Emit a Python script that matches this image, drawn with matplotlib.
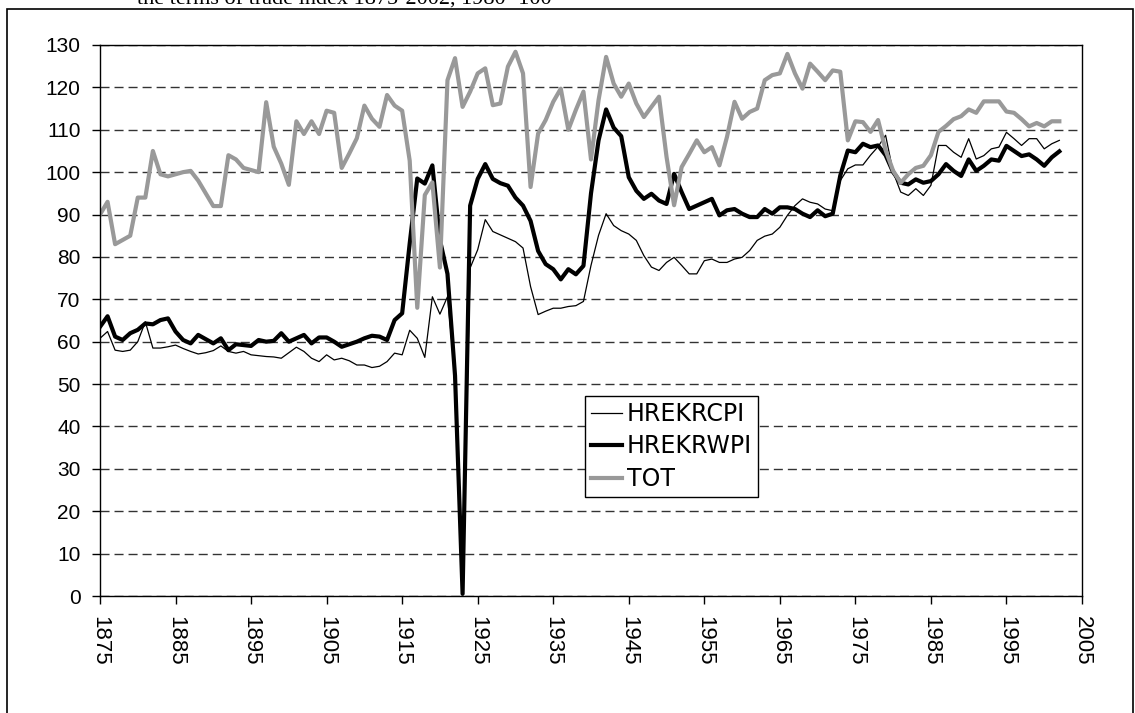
import matplotlib
matplotlib.use("Agg")
import matplotlib.pyplot as plt
import numpy as np
from matplotlib.patches import Rectangle

plt.rcParams["font.family"] = ["Liberation Sans", "DejaVu Sans"]

# annual series 1875-2002, 1980 = 100
years = np.arange(1875, 2003)

hrekrcpi = [
    60.8, 62.4, 58.0, 57.7, 58.0, 60.0, 64.7, 58.5, 58.5, 58.8,   # 1875-1884
    59.2, 58.4, 57.7, 57.1, 57.4, 57.9, 59.0, 57.7, 57.3, 57.7,   # 1885-1894
    56.9, 56.7, 56.5, 56.4, 56.1, 57.4, 58.7, 57.7, 56.1, 55.3,   # 1895-1904
    56.9, 55.7, 56.1, 55.5, 54.5, 54.5, 53.9, 54.2, 55.3, 57.3,   # 1905-1914
    56.9, 62.7, 60.8, 56.3, 70.6, 66.5, 70.6, 52.0, 0.5, 77.4,    # 1915-1924
    81.7, 88.8, 86.0, 85.2, 84.4, 83.6, 82.1, 73.0, 66.4, 67.2,   # 1925-1934
    67.9, 67.9, 68.3, 68.5, 69.5, 78.0, 85.1, 90.2, 87.4, 86.2,   # 1935-1944
    85.4, 83.9, 80.3, 77.6, 76.8, 78.7, 79.9, 78.0, 76.0, 76.0,   # 1945-1954
    79.1, 79.5, 78.7, 78.7, 79.5, 79.9, 81.5, 83.9, 84.9, 85.4,   # 1955-1964
    87.0, 89.8, 92.1, 93.7, 92.9, 92.5, 91.3, 90.9, 98.0, 100.8,  # 1965-1974
    101.7, 101.7, 104.0, 106.0, 108.7, 100.0, 95.3, 94.5, 96.1, 94.5,  # 1975-1984
    96.9, 106.3, 106.3, 104.7, 103.5, 107.9, 103.1, 103.9, 105.5, 105.9,  # 1985-1994
    109.4, 107.9, 106.3, 107.9, 107.9, 105.5, 106.7, 107.5,       # 1995-2002
]

hrekrwpi = [
    63.5, 66.0, 61.2, 60.4, 62.0, 62.8, 64.3, 64.1, 65.1, 65.5,   # 1875-1884
    62.4, 60.4, 59.6, 61.6, 60.6, 59.6, 60.8, 58.0, 59.4, 59.2,   # 1885-1894
    59.0, 60.4, 60.0, 60.2, 62.0, 60.0, 60.8, 61.6, 59.6, 61.0,   # 1895-1904
    61.0, 60.0, 58.8, 59.4, 60.0, 60.8, 61.4, 61.2, 60.4, 65.1,   # 1905-1914
    66.7, 83.2, 98.5, 97.3, 101.6, 84.0, 76.0, 52.0, 0.5, 92.1,   # 1915-1924
    98.4, 101.9, 98.4, 97.4, 96.8, 94.0, 92.1, 88.5, 81.4, 78.3,  # 1925-1934
    77.1, 74.7, 77.1, 75.9, 77.9, 95.0, 107.5, 114.8, 110.5, 108.5,  # 1935-1944
    98.8, 95.6, 93.7, 94.9, 93.3, 92.5, 99.6, 95.3, 91.3, 92.1,   # 1945-1954
    92.9, 93.7, 89.8, 91.0, 91.3, 90.2, 89.4, 89.4, 91.3, 90.2,   # 1955-1964
    91.7, 91.7, 91.3, 90.2, 89.4, 91.0, 89.6, 90.2, 99.2, 105.1,  # 1965-1974
    104.7, 106.7, 105.9, 106.3, 104.0, 100.0, 97.5, 97.1, 98.3, 97.5,  # 1975-1984
    97.9, 99.5, 101.9, 100.3, 99.1, 103.0, 100.3, 101.5, 103.0, 102.7,  # 1985-1994
    106.2, 105.0, 103.8, 104.2, 103.0, 101.5, 103.5, 104.9,       # 1995-2002
]

tot = [
    90.0, 93.0, 83.0, 84.0, 85.0, 94.0, 94.0, 105.0, 99.5, 99.0,  # 1875-1884
    99.5, 100.0, 100.3, 98.0, 95.0, 92.0, 92.0, 104.0, 103.0, 101.0,  # 1885-1894
    100.5, 100.0, 116.5, 106.0, 102.0, 97.0, 112.0, 109.0, 112.0, 109.0,  # 1895-1904
    114.5, 114.0, 101.0, 104.4, 108.0, 115.7, 112.6, 110.7, 118.2, 115.7,  # 1905-1914
    114.5, 102.7, 68.0, 94.6, 97.6, 77.5, 121.7, 126.9, 115.4, 119.0,  # 1915-1924
    123.3, 124.5, 115.8, 116.2, 124.9, 128.4, 123.3, 96.5, 109.1, 112.3,  # 1925-1934
    116.6, 119.7, 110.0, 114.7, 119.0, 103.0, 117.0, 127.2, 120.9, 117.8,  # 1935-1944
    120.9, 116.2, 113.0, 115.4, 117.8, 103.6, 92.2, 101.2, 104.3, 107.5,  # 1945-1954
    104.7, 105.9, 101.6, 108.3, 116.6, 112.6, 114.2, 115.0, 121.7, 122.9,  # 1955-1964
    123.3, 127.9, 123.3, 119.7, 125.6, 123.7, 121.7, 124.0, 123.7, 107.5,  # 1965-1974
    112.0, 111.8, 109.5, 112.3, 105.2, 100.3, 97.5, 99.5, 101.0, 101.5,  # 1975-1984
    104.0, 109.5, 110.9, 112.5, 113.2, 114.8, 114.0, 116.7, 116.7, 116.7,  # 1985-1994
    114.3, 114.0, 112.5, 110.8, 111.6, 110.8, 112.0, 112.0,       # 1995-2002
]

xticks = np.arange(1875, 2006, 10)
yticks = np.arange(0, 131, 10)

W, H = 1135, 713
fig = plt.figure(figsize=(W / 100, H / 100), dpi=100)
ax = fig.add_axes([100 / W, 1 - 596 / H, 982 / W, 551 / H])

ax.plot(years, hrekrcpi, color="black", lw=0.9, label="HREKRCPI")
ax.plot(years, hrekrwpi, color="black", lw=3.0, label="HREKRWPI")
ax.plot(years, tot, color="#999999", lw=3.0, label="TOT")

ax.set_xlim(1875, 2005)
ax.set_ylim(0, 130)
ax.set_xticks(xticks)
ax.set_yticks(yticks)
ax.set_xticklabels([str(t) for t in xticks], rotation=270)

ax.yaxis.grid(True, color="#333333", lw=1.0, linestyle=(0, (6.5, 3.6)))
ax.set_axisbelow(True)
for s in ax.spines.values():
    s.set_color("black")
    s.set_linewidth(1.0)

ax.tick_params(axis="both", direction="out", length=5.5, width=1.0,
               colors="black")
ax.tick_params(axis="y", pad=8.5, labelsize=15)
ax.tick_params(axis="x", pad=9, labelsize=16)

leg = ax.legend(loc="upper left", bbox_to_anchor=(585 / W, 1 - 396 / H),
                bbox_transform=fig.transFigure, fancybox=False, framealpha=1,
                edgecolor="black", prop={"family": "DejaVu Sans", "size": 17},
                handlelength=1.3, handletextpad=0.22, labelspacing=0.36,
                borderpad=0.25, borderaxespad=0)
leg.get_frame().set_linewidth(1.0)

# caption of the page, cut off at the top edge
fig.text(137 / W, 1 - 5 / H, "the terms of trade index 1875-2002, 1980=100",
         family="Liberation Serif", fontsize=16, va="baseline", ha="left")

# frame around the whole chart
fig.add_artist(Rectangle((7 / W, -0.05), (1133 - 7) / W, 1.05 - 9 / H,
                         transform=fig.transFigure, fill=False,
                         ec="black", lw=1.2))

fig.savefig("out.png", dpi=100)
